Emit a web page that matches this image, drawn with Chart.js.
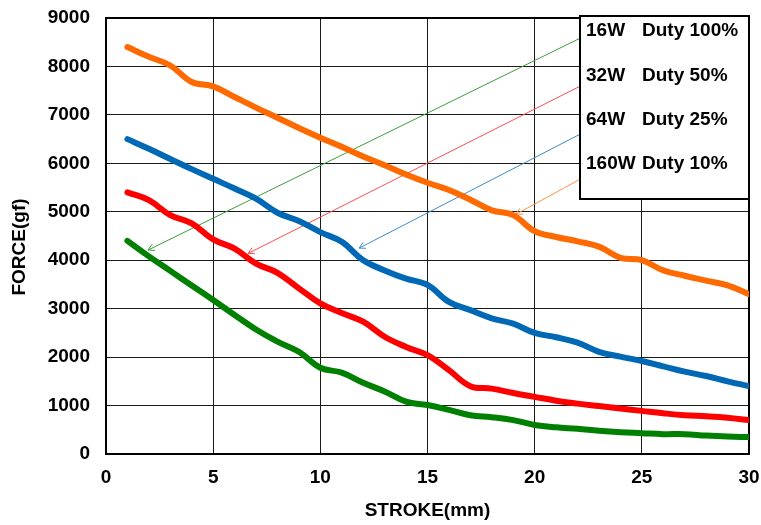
<!DOCTYPE html>
<html lang="en">
  <head>
    <meta charset="UTF-8" />
    <title>Force vs Stroke</title>
    <style>
      body {
        margin: 0;
        background: #fff;
      }
      #chart-box {
        width: 761px;
        height: 525px;
      }
    </style>
  </head>
  <body>
    <div id="chart-box"><canvas id="myChart" width="761" height="525"></canvas></div>
    <script src="https://cdn.jsdelivr.net/npm/chart.js"></script>
    <script>
      const stroke = [1, 2, 3, 4, 5, 6, 7, 8, 9, 10, 11, 12, 13, 14, 15, 16, 17, 18, 19, 20, 21, 22, 23, 24, 25, 26, 27, 28, 29, 30]

      const force16W = [4400, 4080, 3780, 3480, 3180, 2870, 2570, 2320, 2110, 1780, 1680, 1470, 1290, 1080, 1010, 910, 800, 760, 700, 600, 550, 520, 480, 450, 430, 410, 410, 380, 360, 350]
      const force32W = [5400, 5240, 4930, 4760, 4430, 4240, 3930, 3740, 3420, 3110, 2910, 2730, 2420, 2210, 2040, 1730, 1400, 1350, 1260, 1180, 1100, 1040, 990, 940, 890, 840, 800, 780, 750, 700]
      const force64W = [6500, 6300, 6090, 5880, 5680, 5480, 5270, 4980, 4810, 4580, 4380, 4000, 3790, 3620, 3490, 3140, 2970, 2800, 2690, 2500, 2410, 2300, 2110, 2010, 1920, 1810, 1700, 1610, 1500, 1400]
      const force160W = [8400, 8200, 8020, 7680, 7590, 7370, 7150, 6940, 6730, 6530, 6340, 6140, 5960, 5770, 5600, 5450, 5250, 5030, 4930, 4600, 4480, 4390, 4280, 4050, 4000, 3790, 3680, 3580, 3480, 3300]

      const wattLabels = ['16W', '32W', '64W', '160W']
      const dutyLabels = ['Duty 100%', 'Duty 50%', 'Duty 25%', 'Duty 10%']

      // leader arrows from the label box to each curve (data units)
      const arrowTailX = [22.2, 22.2, 22.2, 22.2]
      const arrowTailY = [8600, 7610, 6620, 5690]
      const arrowHeadX = [1.96, 6.63, 11.81, 19.13]
      const arrowHeadY = [4210, 4140, 4250, 4950]

      const xTicks = [0, 5, 10, 15, 20, 25, 30]
      const yTicks = [0, 1000, 2000, 3000, 4000, 5000, 6000, 7000, 8000, 9000]

      const curveColors = ['#008000', '#FF0000', '#0068B5', '#FF6A00']
      const arrowColors = ['#3A9E3A', '#FF4D4D', '#3D8BCB', '#FF8F4A']

      const toPoints = (xs, ys) => xs.map((x, i) => ({ x: x, y: ys[i] }))

      const curves = [force16W, force32W, force64W, force160W].map((ys, i) => ({
        data: toPoints(stroke, ys),
        borderColor: curveColors[i],
        borderWidth: 6,
        borderCapStyle: 'round',
        borderJoinStyle: 'round',
        pointRadius: 0,
        tension: 0.4,
        order: 0
      }))

      const arrows = arrowTailX.map((tx, i) => ({
        data: [
          { x: tx, y: arrowTailY[i] },
          { x: arrowHeadX[i], y: arrowHeadY[i] }
        ],
        borderColor: arrowColors[i],
        borderWidth: 1,
        pointRadius: 0,
        tension: 0,
        arrow: true,
        order: 1
      }))

      const font = "'Liberation Sans', Arial, sans-serif"
      Chart.defaults.font.family = font
      Chart.defaults.color = '#000'

      const extras = {
        id: 'extras',
        beforeDatasetsDraw(chart) {
          const { ctx, chartArea: a } = chart
          ctx.save()
          ctx.strokeStyle = '#000'
          ctx.lineWidth = 2
          ctx.strokeRect(a.left, a.top, a.right - a.left, a.bottom - a.top)
          ctx.restore()
        },
        afterDatasetDraw(chart, args) {
          const ds = chart.data.datasets[args.index]
          if (!ds.arrow) return
          const { ctx } = chart
          const [tail, head] = args.meta.data
          const ang = Math.atan2(head.y - tail.y, head.x - tail.x)
          const len = 7
          ctx.save()
          ctx.strokeStyle = ds.borderColor
          ctx.lineWidth = 1
          ctx.beginPath()
          ctx.moveTo(head.x - len * Math.cos(ang - 0.5), head.y - len * Math.sin(ang - 0.5))
          ctx.lineTo(head.x, head.y)
          ctx.lineTo(head.x - len * Math.cos(ang + 0.5), head.y - len * Math.sin(ang + 0.5))
          ctx.stroke()
          ctx.restore()
        },
        afterDraw(chart) {
          const { ctx, chartArea: a } = chart
          // label box
          const left = a.right - 169
          const top = a.top - 2
          const w = 169
          const h = 183
          ctx.save()
          ctx.fillStyle = '#fff'
          ctx.fillRect(left, top, w, h)
          ctx.strokeStyle = '#000'
          ctx.lineWidth = 2
          ctx.strokeRect(left, top, w, h)
          ctx.fillStyle = '#000'
          ctx.font = 'bold 19px ' + font
          ctx.textBaseline = 'middle'
          ctx.textAlign = 'left'
          wattLabels.forEach((t, i) => {
            const y = top + 15 + i * 44.3
            ctx.fillText(t, left + 6, y)
            ctx.fillText(dutyLabels[i], left + 62, y)
          })
          // y axis title
          ctx.translate(20, (a.top + a.bottom) / 2 + 11)
          ctx.rotate(-Math.PI / 2)
          ctx.textAlign = 'center'
          ctx.fillText('FORCE(gf)', 0, 0)
          ctx.restore()
        }
      }

      const ctx = document.getElementById('myChart')
      const myChart = new Chart(ctx, {
        type: 'line',
        data: { datasets: curves.concat(arrows) },
        plugins: [extras],
        options: {
          responsive: false,
          devicePixelRatio: 1,
          animation: false,
          layout: { padding: { top: 18, right: 12, left: 0, bottom: 0 } },
          plugins: {
            legend: { display: false },
            tooltip: { enabled: false }
          },
          scales: {
            x: {
              type: 'linear',
              min: 0,
              max: 30,
              afterFit: (scale) => {
                scale.height = 71
                scale.paddingLeft = 0
                scale.paddingRight = 0
              },
              afterBuildTicks: (scale) => { scale.ticks = xTicks.map((v) => ({ value: v })) },
              ticks: {
                padding: 12,
                font: { size: 19, weight: 'bold' },
                callback: (v) => String(v)
              },
              grid: { color: '#1a1a1a', lineWidth: 1, drawTicks: false },
              border: { color: '#000', width: 2 },
              title: {
                display: true,
                text: 'STROKE(mm)',
                font: { size: 19, weight: 'bold' },
                padding: { top: 0, bottom: 3 }
              }
            },
            y: {
              min: 0,
              max: 9000,
              afterFit: (scale) => {
                scale.width = 106
                scale.paddingTop = 0
                scale.paddingBottom = 0
              },
              afterBuildTicks: (scale) => { scale.ticks = yTicks.map((v) => ({ value: v })) },
              ticks: {
                padding: 16,
                font: { size: 19, weight: 'bold' },
                callback: (v) => String(v)
              },
              grid: { color: '#1a1a1a', lineWidth: 1, drawTicks: false },
              border: { color: '#000', width: 2 }
            }
          }
        }
      })
    </script>
  </body>
</html>
